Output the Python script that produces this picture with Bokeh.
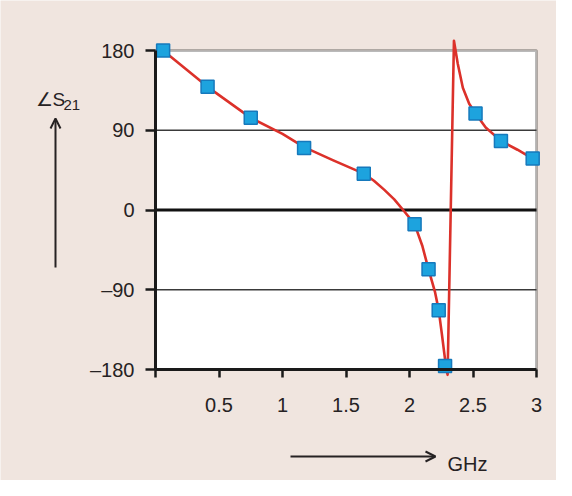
from bokeh.plotting import figure
from bokeh.models import Range1d, Label, Arrow, OpenHead, FixedTicker, BoxAnnotation
from bokeh.embed import file_html
from bokeh.resources import INLINE

# Markers (measured points)
freq_pts = [0.06, 0.41, 0.75, 1.17, 1.64, 2.04, 2.15, 2.23, 2.28, 2.52, 2.72, 2.97]
phase_pts = [180, 139, 104, 70, 41, -16, -67, -113, -176, 109, 78, 58]

# Red trace
freq_curve = [0.06, 0.41, 0.75, 1.0, 1.17, 1.4, 1.64, 1.72, 1.80, 1.88, 1.95, 2.04, 2.10, 2.15, 2.20, 2.23,
              2.255, 2.275, 2.29, 2.30, 2.35, 2.38, 2.42, 2.47, 2.52, 2.60, 2.72, 2.85, 2.97, 3.0]
phase_curve = [180, 139, 104, 86, 71, 56, 41, 33, 23, 12, 0, -16, -40, -67, -92, -113,
               -140, -163, -180, -186, 191, 165, 138, 120, 109, 93, 78, 68, 58, 55]

x_ticks = [0, 0.5, 1, 1.5, 2, 2.5, 3]
x_tick_labels = ["", "0.5", "1", "1.5", "2", "2.5", "3"]
y_ticks = [-180, -90, 0, 90, 180]
y_tick_labels = ["\u2013180", "\u201390", "0", "90", "180"]
grid_thin = [90, -90]
grid_zero = [0]

BG = "#F0E5DF"
FONT = "Liberation Sans"
TXT = "#262223"
RED = "#DC312A"
DARK = "#1a1a1a"

W, H = 556, 480
# plot box position on the canvas (pixels) -> data ranges of the full-canvas frame
BOX_L, BOX_R, BOX_T, BOX_B = 155, 536, 50, 369
xs = (BOX_R - BOX_L) / (x_ticks[-1] - x_ticks[0])
ys = (BOX_B - BOX_T) / (y_ticks[-1] - y_ticks[0])
x_rng = Range1d(x_ticks[0] - BOX_L / xs, x_ticks[-1] + (W - BOX_R) / xs)
y_rng = Range1d(y_ticks[0] - (H - BOX_B) / ys, y_ticks[-1] + BOX_T / ys)

def px_x(px):
    return x_ticks[0] + (px - BOX_L) / xs

def px_y(py):
    return y_ticks[-1] - (py - BOX_T) / ys

p = figure(width=W, height=H, output_backend="svg", toolbar_location=None, title=None,
           x_range=x_rng, y_range=y_rng, min_border=0,
           min_border_left=0, min_border_right=0, min_border_top=0, min_border_bottom=0)
p.border_fill_color = BG
p.background_fill_color = BG
p.outline_line_color = None
p.xgrid.visible = False
p.ygrid.visible = False

p.add_layout(BoxAnnotation(left=x_ticks[0], right=x_ticks[-1], bottom=y_ticks[0], top=y_ticks[-1],
                           fill_color="white", fill_alpha=1.0, line_color=DARK, line_width=3,
                           level="underlay"))

p.xaxis.fixed_location = y_ticks[0]
p.yaxis.fixed_location = x_ticks[0]
p.xaxis.bounds = (x_ticks[0], x_ticks[-1])
p.yaxis.bounds = (y_ticks[0], y_ticks[-1])
for ax, ticks, labels in ((p.xaxis[0], x_ticks, x_tick_labels), (p.yaxis[0], y_ticks, y_tick_labels)):
    ax.ticker = FixedTicker(ticks=ticks)
    ax.major_label_overrides = {t: l for t, l in zip(ticks, labels)}
    ax.minor_tick_line_color = None
    ax.major_tick_in = 0
    ax.major_tick_line_width = 2.5
    ax.major_tick_line_color = DARK
    ax.axis_line_width = 3
    ax.axis_line_color = DARK
    ax.major_label_text_font = FONT
    ax.major_label_text_font_size = "20px"
    ax.major_label_text_color = TXT
p.xaxis.major_tick_out = 8
p.yaxis.major_tick_out = 10
p.xaxis.major_label_standoff = 20
p.yaxis.major_label_standoff = 11

p.segment(x0=[x_ticks[0]] * len(grid_thin), y0=grid_thin, x1=[x_ticks[-1]] * len(grid_thin), y1=grid_thin,
          line_color="#3a3a3a", line_width=1.5)
p.segment(x0=[x_ticks[0]], y0=grid_zero, x1=[x_ticks[-1]], y1=grid_zero, line_color="#111111", line_width=2.8)

p.line(freq_curve, phase_curve, line_color=RED, line_width=2.6, line_join="round")
p.scatter(freq_pts, phase_pts, marker="square", size=13, fill_color="#1DA3DE",
          line_color="#1679BC", line_width=1.5)

# Axis captions and arrows
p.add_layout(Label(x=px_x(35), y=px_y(99), text="\u2220S", text_font=FONT, text_font_size="19px",
                   text_color=TXT, text_baseline="alphabetic", text_align="left"))
p.add_layout(Label(x=px_x(63), y=px_y(104.5), text="21", text_font=FONT, text_font_size="15px",
                   text_color=TXT, text_baseline="alphabetic", text_align="left"))
p.add_layout(Arrow(x_start=px_x(55), y_start=px_y(267), x_end=px_x(55), y_end=px_y(118),
                   end=OpenHead(size=10, line_width=2, line_color=TXT), line_color=TXT, line_width=2))
p.add_layout(Arrow(x_start=px_x(290), y_start=px_y(456), x_end=px_x(435), y_end=px_y(456),
                   end=OpenHead(size=10, line_width=2, line_color=TXT), line_color=TXT, line_width=2))
p.add_layout(Label(x=px_x(447), y=px_y(463), text="GHz", text_font=FONT, text_font_size="20px",
                   text_color=TXT, text_baseline="alphabetic", text_align="left"))

open("out.html", "w").write(file_html(p, INLINE))
